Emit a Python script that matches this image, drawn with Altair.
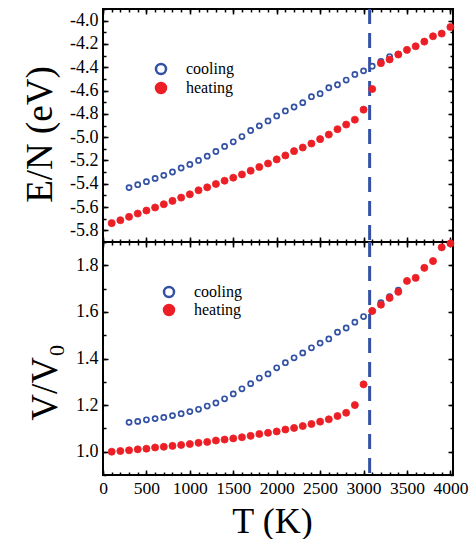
import altair as alt
import pandas as pd

# Temperatures (K) of the simulation runs
cool_T = [300, 400, 500, 600, 700, 800, 900, 1000, 1100, 1200, 1300, 1400, 1500,
          1600, 1700, 1800, 1900, 2000, 2100, 2200, 2300, 2400, 2500, 2600, 2700,
          2800, 2900, 3000, 3100, 3200, 3300, 3400]
heat_T = [100, 200, 300, 400, 500, 600, 700, 800, 900, 1000, 1100, 1200, 1300,
          1400, 1500, 1600, 1700, 1800, 1900, 2000, 2100, 2200, 2300, 2400, 2500,
          2600, 2700, 2800, 2900, 3000, 3100, 3200, 3300, 3400, 3500, 3600, 3700,
          3800, 3900, 4000]

# Energy per atom (eV)
cool_E = [-5.433, -5.408, -5.382, -5.354, -5.328, -5.299, -5.265, -5.234, -5.200,
          -5.163, -5.123, -5.080, -5.040, -4.995, -4.943, -4.903, -4.861, -4.818,
          -4.775, -4.741, -4.704, -4.653, -4.627, -4.576, -4.550, -4.510, -4.462,
          -4.431, -4.391, -4.350, -4.308, -4.288]
heat_E = [-5.738, -5.713, -5.684, -5.656, -5.630, -5.604, -5.576, -5.547, -5.519,
          -5.491, -5.456, -5.431, -5.402, -5.374, -5.348, -5.320, -5.288, -5.256,
          -5.226, -5.191, -5.157, -5.120, -5.089, -5.055, -5.017, -4.978, -4.932,
          -4.892, -4.850, -4.764, -4.587, -4.365, -4.333, -4.291, -4.251, -4.220,
          -4.180, -4.134, -4.111, -4.055]

# Relative volume V/V0
cool_V = [1.126, 1.130, 1.137, 1.142, 1.147, 1.155, 1.163, 1.172, 1.182, 1.196,
          1.209, 1.227, 1.248, 1.270, 1.292, 1.316, 1.334, 1.360, 1.382, 1.403,
          1.424, 1.446, 1.466, 1.484, 1.513, 1.531, 1.556, 1.580, 1.604, 1.640,
          1.665, 1.693]
heat_V = [1.000, 1.003, 1.006, 1.010, 1.013, 1.018, 1.021, 1.025, 1.029, 1.033,
          1.038, 1.042, 1.048, 1.052, 1.057, 1.062, 1.068, 1.076, 1.081, 1.087,
          1.095, 1.102, 1.110, 1.119, 1.129, 1.139, 1.153, 1.167, 1.200, 1.289,
          1.604, 1.631, 1.660, 1.686, 1.733, 1.746, 1.789, 1.818, 1.877, 1.894]

# Melting transition marked by the dashed line
transition_T = [3070]

series_names = ["cooling", "heating"]

x_domain = [0, 4030]
x_major = [0, 500, 1000, 1500, 2000, 2500, 3000, 3500, 4000]
x_minor = [0, 100, 200, 300, 400, 500, 600, 700, 800, 900, 1000, 1100, 1200, 1300,
           1400, 1500, 1600, 1700, 1800, 1900, 2000, 2100, 2200, 2300, 2400, 2500,
           2600, 2700, 2800, 2900, 3000, 3100, 3200, 3300, 3400, 3500, 3600, 3700,
           3800, 3900, 4000]

e_domain = [-5.9, -3.9]
e_major = [-5.8, -5.6, -5.4, -5.2, -5.0, -4.8, -4.6, -4.4, -4.2, -4.0]
e_minor = [-5.9, -5.8, -5.7, -5.6, -5.5, -5.4, -5.3, -5.2, -5.1, -5.0, -4.9, -4.8,
           -4.7, -4.6, -4.5, -4.4, -4.3, -4.2, -4.1, -4.0, -3.9]

v_domain = [0.9, 1.9]
v_major = [1.0, 1.2, 1.4, 1.6, 1.8]
v_minor = [0.9, 1.0, 1.1, 1.2, 1.3, 1.4, 1.5, 1.6, 1.7, 1.8, 1.9]

BLUE = "#3452a4"
RED = "#ec1f26"
FONT = "Liberation Serif"
W, H = 350, 233
MAJ, MIN = 5, 3


def long_table(c_vals, h_vals):
    return pd.DataFrame({
        "T": cool_T + heat_T,
        "val": c_vals + h_vals,
        "series": ["cooling"] * len(cool_T) + ["heating"] * len(heat_T),
    })


def tick_axis(orient, values, size):
    return alt.Axis(orient=orient, values=values, labels=False, domain=False,
                    grid=False, ticks=True, tickSize=size, offset=-size,
                    tickWidth=1.5, tickColor="black", title=None)


def panel(df, y_domain, y_major, y_minor, y_title, title_x, title_y,
          legend_x, legend_y, label_offset, row_pad, bottom_labels):
    xs = alt.Scale(domain=x_domain, nice=False, zero=False)
    ys = alt.Scale(domain=y_domain, nice=False, zero=False)

    y_label_axis = alt.Axis(
        orient="left", values=y_major, ticks=False, tickSize=0, domain=False,
        grid=False, labelFont=FONT, labelFontSize=18, labelColor="black",
        labelPadding=5, labelFlush=False, labelOverlap=False,
        labelExpr="replace(format(datum.value, '.1f'), '\u2212', '-')",
        title=y_title, titleFont=FONT, titleFontSize=37, titleFontWeight="normal",
        titleColor="black", titleBaseline="alphabetic", titleAlign="center",
        titleAngle=270, titleX=title_x, titleY=title_y)

    if bottom_labels:
        x_label_axis = alt.Axis(
            orient="bottom", values=x_major, ticks=False, tickSize=0, domain=False,
            grid=False, format="d", labelFont=FONT, labelFontSize=17.5,
            labelColor="black", labelPadding=4, labelFlush=False,
            labelOverlap=False, title="T (K)", titleFont=FONT, titleFontSize=36,
            titleFontWeight="normal", titleColor="black",
            titleBaseline="alphabetic", titleAlign="center", titleX=169,
            titleY=57)
    else:
        x_label_axis = None

    legend = alt.Legend(orient="none", legendX=legend_x, legendY=legend_y,
                        title=None, labelFont=FONT, labelFontSize=16,
                        labelColor="black", symbolType="circle", symbolSize=100,
                        symbolStrokeWidth=2.5, labelOffset=label_offset,
                        rowPadding=row_pad, padding=0)
    fill_scale = alt.Scale(domain=series_names, range=["white", RED])
    stroke_scale = alt.Scale(domain=series_names, range=[BLUE, RED])

    def series_layer(name, size, stroke_width, x_axis, y_axis):
        return alt.Chart(df).transform_filter(
            alt.datum.series == name
        ).mark_point(shape="circle", filled=True, opacity=1, size=size,
                     strokeWidth=stroke_width).encode(
            x=alt.X("T:Q", scale=xs, axis=x_axis),
            y=alt.Y("val:Q", scale=ys, axis=y_axis),
            fill=alt.Fill("series:N", scale=fill_scale, legend=legend),
            stroke=alt.Stroke("series:N", scale=stroke_scale, legend=legend),
        )

    cooling = series_layer("cooling", 26, 1.7, x_label_axis, y_label_axis)
    heating = series_layer("heating", 50, 0.8,
                           tick_axis("bottom", x_major, MAJ),
                           tick_axis("left", y_major, MAJ))

    def ticks_layer(x_orient, y_orient, size, xv, yv):
        return alt.Chart(df).mark_point(opacity=0).encode(
            x=alt.X("T:Q", scale=xs, axis=tick_axis(x_orient, xv, size)),
            y=alt.Y("val:Q", scale=ys, axis=tick_axis(y_orient, yv, size)),
        )

    bottom_left_minor = ticks_layer("bottom", "left", MIN, x_minor, y_minor)
    top_right_major = ticks_layer("top", "right", MAJ, x_major, y_major)
    top_right_minor = ticks_layer("top", "right", MIN, x_minor, y_minor)

    rule = alt.Chart(pd.DataFrame({"T": transition_T})).mark_rule(
        color=BLUE, strokeWidth=3, strokeDash=[15, 9]
    ).encode(x=alt.X("T:Q", scale=xs, axis=None))

    return alt.layer(
        rule, cooling, heating, bottom_left_minor, top_right_major, top_right_minor
    ).resolve_axis(x="independent", y="independent").properties(width=W, height=H)


top = panel(long_table(cool_E, heat_E), e_domain, e_major, e_minor, "E/N (eV)",
            -52, 125, 50, 52, 17, -1, False)
bottom = panel(long_table(cool_V, heat_V), v_domain, v_major, v_minor, "V/V\u2080",
               -47, 140, 58, 42, 17, -2, True)

chart = alt.vconcat(top, bottom, spacing=0, bounds="flush").resolve_scale(
    fill="independent", stroke="independent"
).properties(
    padding={"left": 20, "top": 6, "right": 2, "bottom": 0},
    background="white",
).configure_view(stroke="black", strokeWidth=2)

chart.save("out.html", embed_options={"renderer": "svg", "actions": False})
